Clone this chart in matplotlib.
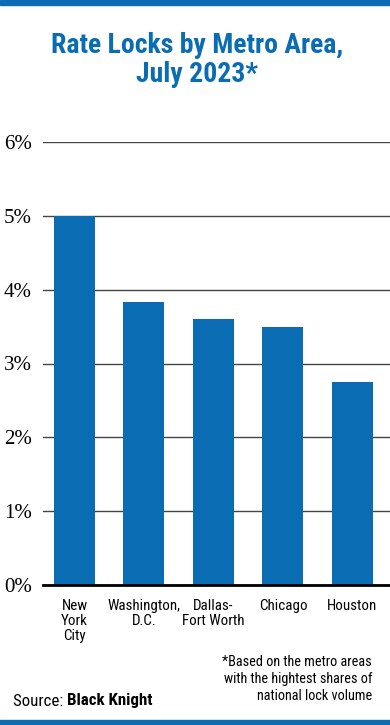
import matplotlib.pyplot as plt
from matplotlib import font_manager

metros = ["New\nYork\nCity", "Washington,\nD.C.", "Dallas-\nFort Worth", "Chicago", "Houston"]
shares = [5.0, 3.83, 3.6, 3.5, 2.75]
y_ticks = [0, 1, 2, 3, 4, 5, 6]

BLUE = "#0a6db3"
names = {f.name for f in font_manager.fontManager.ttflist}
cond = [n for n in ["Roboto Condensed", "Liberation Sans Narrow", "Arial Narrow"] if n in names]
NARROW = (cond[:1] or ["Roboto"]) + ["DejaVu Sans"]
SERIF = ["Liberation Serif", "DejaVu Serif"]

fig = plt.figure(figsize=(3.9, 7.25), dpi=100)
ax = fig.add_axes([43 / 390, 140 / 725, 347 / 390, 443 / 725])

x = list(range(len(metros)))
ax.bar(x, shares, width=0.59, color=BLUE, zorder=3)

ax.set_xlim(-0.453, 4.54)
ax.set_ylim(0, 6)
ax.set_yticks(y_ticks)
ax.set_yticklabels([f"{v}%" for v in y_ticks], family=SERIF, fontsize=15)
ax.yaxis.grid(True, color="#444444", linewidth=1.0, zorder=1)
ax.tick_params(axis="y", length=0, pad=8)
ax.set_xticks(x)
ax.set_xticklabels(metros, family=NARROW, fontsize=10.8, linespacing=1.1, va="top")
ax.tick_params(axis="x", length=0, pad=10)
for s in ["top", "right", "left"]:
    ax.spines[s].set_visible(False)
ax.spines["bottom"].set_color("black")
ax.spines["bottom"].set_linewidth(2)
ax.spines["bottom"].set_zorder(4)

fig.text(0.505, 1 - 60 / 725, "Rate Locks by Metro Area,\nJuly 2023*", ha="center", va="center",
         color=BLUE, fontsize=20, fontweight="bold", family=NARROW, linespacing=1.08)

fig.text(372 / 390, 1 - 679 / 725,
         "*Based on the metro areas\nwith the hightest shares of\nnational lock volume",
         ha="right", va="center", fontsize=10.3, family=NARROW, linespacing=1.3)
src = fig.text(13 / 390, 1 - 701 / 725, "Source: ", ha="left", va="center", fontsize=12.2, family=NARROW)
fig.canvas.draw()
bb = src.get_window_extent()
fig.text(bb.x1 / 390, 1 - 701 / 725, "Black Knight", ha="left", va="center", fontsize=12.2,
         family=NARROW, fontweight="bold")

fig.add_artist(plt.Rectangle((0, 1 - 5 / 725), 1, 5 / 725, transform=fig.transFigure, color=BLUE))
fig.add_artist(plt.Rectangle((0, 0), 1, 5 / 725, transform=fig.transFigure, color=BLUE))

fig.savefig("out.png", dpi=100)
